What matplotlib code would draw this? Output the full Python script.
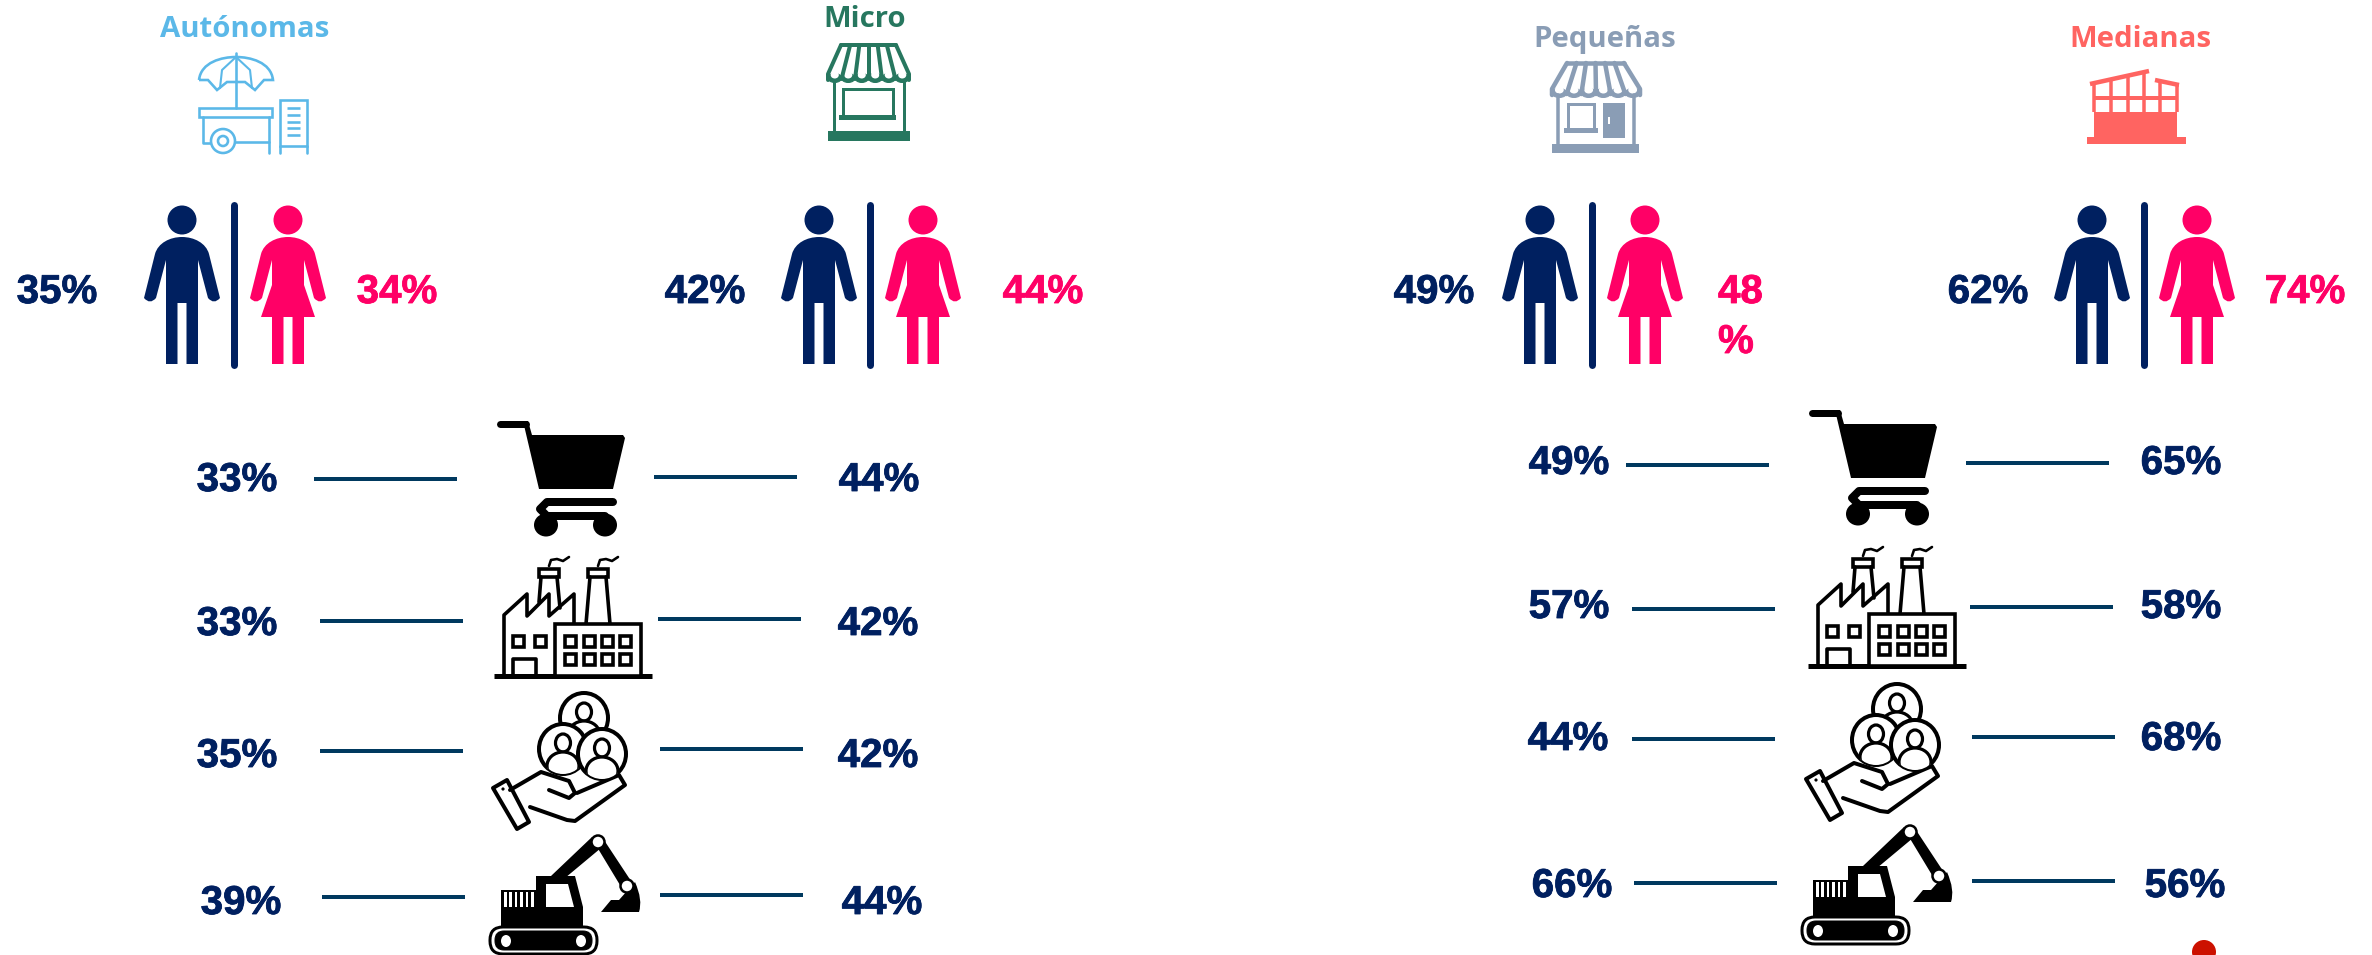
#Empresas por tamano y sector - infografia
import matplotlib
matplotlib.use("Agg")
import matplotlib.pyplot as plt
import matplotlib.patheffects as pe
from matplotlib.path import Path
from matplotlib.patches import PathPatch, Ellipse, Rectangle, Polygon, Circle, FancyBboxPatch

# data
groups = ["Autónomas", "Micro", "Pequeñas", "Medianas"]
men = [35, 42, 49, 62]
women = [34, 44, 48, 74]
block1_left = [33, 33, 35, 39]
block1_right = [44, 42, 42, 44]
block2_left = [49, 57, 44, 66]
block2_right = [65, 58, 68, 56]

# layout (pixels of the 2372x955 picture)
title_x = [245, 865, 1605, 2140]
title_y = [37, 27, 47, 47]
title_col = ["#5BB8E8", "#27775F", "#8A9DB5", "#FF6461"]
man_x = [182, 819, 1540, 2092]
div_x = [234, 870, 1592, 2144]
woman_x = [288, 923, 1645, 2197]
men_lab_x = [57, 705, 1434, 1988]
women_lab_x = [397, 1043, 1740, 2305]

NAVY = "#002060"
PINK = "#FF0066"
LINE = "#00395F"
BLACK = "#000000"
NUM_FONT = ["Liberation Sans", "DejaVu Sans"]
TITLE_FONT = ["Open Sans", "DejaVu Sans"]
NUM_SIZE = 29

fig = plt.figure(figsize=(23.72, 9.55), dpi=100)
ax = fig.add_axes([0, 0, 1, 1])
ax.set_xlim(0, 2372)
ax.set_ylim(955, 0)
ax.axis("off")


def px(w):
    return w * 0.72


def num(x, y, s, col=NAVY, ha="center"):
    t = ax.text(x, y, s, color=col, fontsize=NUM_SIZE, fontweight="bold",
                family=NUM_FONT, ha=ha, va="baseline")
    t.set_path_effects([pe.withStroke(linewidth=0.6, foreground=col)])


def seg(pts, col=BLACK, w=3, cap="round"):
    xs = [p[0] for p in pts]
    ys = [p[1] for p in pts]
    ax.plot(xs, ys, color=col, lw=px(w), solid_capstyle=cap, solid_joinstyle="round")


def poly(pts, col=BLACK, z=2):
    ax.add_patch(Polygon(pts, closed=True, fc=col, ec="none", zorder=z))


def box(x, y, w, h, col=BLACK, z=2):
    ax.add_patch(Rectangle((x, y), w, h, fc=col, ec="none", zorder=z))


#------------------------------------------------------------------------------
def person(cx, col, skirt=False):
    ax.add_patch(Ellipse((cx, 220), 29, 29, fc=col, ec="none"))
    C3, C4, L = Path.CURVE3, Path.CURVE4, Path.LINETO
    v = [(-27, 254), (-24, 243), (-12, 237), (0, 237), (12, 237), (24, 243), (27, 254),
         (38, 298), (32, 305), (26, 298), (16, 260)]
    c = [Path.MOVETO, C4, C4, C4, C4, C4, C4, L, C3, C3, L]
    if skirt:
        low = [(16, 285), (27, 317), (16, 317), (16, 364), (4.5, 364), (4.5, 317),
               (-4.5, 317), (-4.5, 364), (-16, 364), (-16, 317), (-27, 317), (-16, 285)]
    else:
        low = [(16, 364), (4.5, 364), (4.5, 303), (-4.5, 303), (-4.5, 364), (-16, 364)]
    v += low
    c += [L] * len(low)
    v += [(-16, 260), (-26, 298), (-32, 305), (-38, 298), (-27, 254)]
    c += [L, L, C3, C3, Path.CLOSEPOLY]
    v = [(cx + a, b) for a, b in v]
    ax.add_patch(PathPatch(Path(v, c), fc=col, ec="none"))


#------------------------------------------------------------------------------
def awning(x0, x1, top_l, top_r, y0, y1, col, w=4):
    # top bar, side edges, ribs and scallops of a shop awning
    n = 6
    seg([(top_l, y0), (top_r, y0)], col, w)
    seg([(top_l, y0), (x0, y1 - 6), (x0, y1)], col, w)
    seg([(top_r, y0), (x1, y1 - 6), (x1, y1)], col, w)
    for i in range(1, n):
        f = i / n
        seg([(top_l + (top_r - top_l) * f, y0), (x0 + (x1 - x0) * f, y1 - 1)], col, w)
    for i in range(n):
        sw = (x1 - x0) / n
        ax.add_patch(Ellipse((x0 + sw * (i + 0.5), y1 - 2), sw, 9, fc=col, ec=col, lw=px(1), zorder=1.5))
        ax.add_patch(Ellipse((x0 + sw * (i + 0.5), y1 - 5), sw * 0.6, 7, fc="white", ec="none", zorder=1.6))


def store_micro(col):
    awning(828, 909, 841, 896, 45, 80, col)
    seg([(834, 80), (834, 133)], col, 3)
    seg([(904, 80), (904, 133)], col, 3)
    ax.add_patch(Rectangle((843, 89), 50, 27, fc="white", ec=col, lw=px(3)))
    box(839, 115, 57, 5, col)
    box(828, 131, 82, 10, col)


def store_small(col):
    awning(1552, 1640, 1567, 1624, 63, 95, col, 4.5)
    seg([(1558, 95), (1558, 146)], col, 3.5)
    seg([(1634, 95), (1634, 146)], col, 3.5)
    ax.add_patch(Rectangle((1568, 104), 26, 25, fc="white", ec=col, lw=px(3)))
    box(1564, 128, 34, 5, col)
    box(1603, 103, 22, 35, col)
    box(1608, 117, 2, 7, "white", 3)
    box(1552, 144, 87, 9, col)


def cart_stall(col):
    w = 2.6
    # umbrella
    ax.add_patch(PathPatch(Path(
        [(199, 80), (201, 62), (222, 57), (236, 57), (250, 57), (271, 62), (273, 80),
         (264, 80), (255, 90), (245, 82), (236, 82), (227, 82), (217, 90), (208, 80), (199, 80)],
        [Path.MOVETO, Path.CURVE4, Path.CURVE4, Path.CURVE4, Path.CURVE4, Path.CURVE4, Path.CURVE4,
         Path.LINETO, Path.LINETO, Path.LINETO, Path.LINETO, Path.LINETO, Path.LINETO, Path.LINETO, Path.LINETO]),
        fc="none", ec=col, lw=px(w)))
    seg([(236, 53), (236, 108)], col, w)
    seg([(236, 57), (222, 70), (220, 88)], col, w * 0.8)
    seg([(236, 57), (250, 70), (252, 88)], col, w * 0.8)
    # cart
    ax.add_patch(Rectangle((199, 108), 73, 9, fc="none", ec=col, lw=px(w)))
    seg([(203, 117), (203, 143), (210, 143)], col, w)
    seg([(269, 117), (269, 153)], col, w)
    seg([(235, 142), (269, 142)], col, w)
    ax.add_patch(Circle((223, 141), 12, fc="white", ec=col, lw=px(w)))
    ax.add_patch(Circle((223, 141), 5, fc="white", ec=col, lw=px(w)))
    # panel
    ax.add_patch(Rectangle((280, 100), 27, 46, fc="none", ec=col, lw=px(w)))
    seg([(280, 146), (280, 153)], col, w)
    seg([(307, 146), (307, 153)], col, w)
    for y in [108, 115, 122, 128, 135]:
        seg([(287, y), (300, y)], col, w, "butt")


def workshop(col):
    box(2087, 137, 99, 7, col)
    box(2094, 112, 83, 25, col)
    post_x = [2094, 2111, 2128, 2144, 2160, 2177]
    post_top = [84, 80, 76, 72, 82, 85]
    for x, t in zip(post_x, post_top):
        seg([(x, t), (x, 112)], col, 3.5, "butt")
    box(2094, 96, 83, 4, col)
    seg([(2090, 84), (2149, 71)], col, 4.5, "butt")
    seg([(2155, 80), (2179, 85)], col, 4.5, "butt")


#------------------------------------------------------------------------------
def cart(x, y):
    seg([(x + 3, y + 6), (x + 29, y + 6)], BLACK, 7)
    poly([(x + 26, y + 3), (x + 31, y + 3), (x + 35, y + 17), (x + 126, y + 17), (x + 128, y + 20),
          (x + 116, y + 71), (x + 42, y + 71)])
    seg([(x + 116, y + 84), (x + 50, y + 84), (x + 43, y + 91), (x + 50, y + 98), (x + 108, y + 98)], BLACK, 8)
    ax.add_patch(Ellipse((x + 49, y + 107), 24, 23, fc=BLACK, ec="none"))
    ax.add_patch(Ellipse((x + 108, y + 107), 24, 23, fc=BLACK, ec="none"))


def factory(x, y):
    w = 3.6
    seg([(x, y + 120), (x + 158, y + 120)], BLACK, 5, "butt")
    seg([(x + 10, y + 120), (x + 10, y + 59), (x + 33, y + 38), (x + 33, y + 60), (x + 55, y + 38),
         (x + 55, y + 60), (x + 80, y + 38), (x + 80, y + 68)], BLACK, w)
    ax.add_patch(Rectangle((x + 61, y + 68), 86, 52, fc="white", ec=BLACK, lw=px(w), zorder=3))
    # chimneys
    seg([(x + 47, y + 21), (x + 45, y + 46)], BLACK, w)
    seg([(x + 63, y + 21), (x + 66, y + 52)], BLACK, w)
    seg([(x + 96, y + 21), (x + 92, y + 68)], BLACK, w)
    seg([(x + 112, y + 21), (x + 116, y + 68)], BLACK, w)
    for cxx in [45, 94]:
        ax.add_patch(Rectangle((x + cxx, y + 13), 20, 8, fc="white", ec=BLACK, lw=px(w)))
        seg([(x + cxx + 10, y + 10), (x + cxx + 12, y + 4), (x + cxx + 18, y + 3), (x + cxx + 24, y + 5), (x + cxx + 30, y + 1)], BLACK, 2.6)
    # windows
    for wx in [19, 41, 71, 90, 108, 126]:
        ax.add_patch(Rectangle((x + wx, y + 80), 11, 11, fc="white", ec=BLACK, lw=px(w), zorder=4))
    for wx in [71, 90, 108, 126]:
        ax.add_patch(Rectangle((x + wx, y + 98), 11, 11, fc="white", ec=BLACK, lw=px(w), zorder=4))
    seg([(x + 19, y + 120), (x + 19, y + 103), (x + 42, y + 103), (x + 42, y + 120)], BLACK, w)


def hand(x, y):
    w = 4
    for cx, cy in [(93, 25), (72, 56), (111, 61)]:
        cc = Ellipse((x + cx, y + cy), 48, 50, fc="white", ec=BLACK, lw=px(w), zorder=3)
        ax.add_patch(cc)
        head = Ellipse((x + cx, y + cy - 6), 15, 18, fc="white", ec=BLACK, lw=px(w * 0.8), zorder=3)
        ax.add_patch(head)
        body = Ellipse((x + cx, y + cy + 17), 32, 28, fc="white", ec=BLACK, lw=px(w * 0.8), zorder=3)
        ax.add_patch(body)
        body.set_clip_path(cc)
    seg([(x + 19, y + 97), (x + 50, y + 79), (x + 78, y + 88), (x + 84, y + 100), (x + 78, y + 105), (x + 58, y + 97)], BLACK, w)
    seg([(x + 86, y + 100), (x + 128, y + 82), (x + 134, y + 92), (x + 84, y + 128), (x + 76, y + 127), (x + 39, y + 114)], BLACK, w)
    ax.add_patch(Polygon([(x + 2, y + 95), (x + 16, y + 87), (x + 38, y + 129), (x + 26, y + 136)], closed=True,
                         fc="white", ec=BLACK, lw=px(w), joinstyle="round"))
    ax.add_patch(Circle((x + 12, y + 96), 1.6, fc=BLACK, ec="none"))


def excavator(x, y):
    # body and cab
    poly([(x + 12, y + 56), (x + 47, y + 56), (x + 47, y + 42), (x + 86, y + 42), (x + 94, y + 73),
          (x + 94, y + 95), (x + 12, y + 95)])
    for i in range(6):
        box(x + 15 + i * 5.4, y + 58, 2.6, 15, "white", 3)
    poly([(x + 57, y + 50), (x + 79, y + 50), (x + 85, y + 73), (x + 57, y + 73)], "white", 3)
    # boom, arm and bucket
    poly([(x + 62, y + 42), (x + 103, y + 3), (x + 112, y + 14), (x + 76, y + 44)])
    poly([(x + 105, y + 8), (x + 113, y + 3), (x + 144, y + 50), (x + 134, y + 56)])
    ax.add_patch(PathPatch(Path(
        [(x + 112, y + 78), (x + 122, y + 66), (x + 130, y + 66), (x + 146, y + 48), (x + 154, y + 66),
         (x + 150, y + 78), (x + 132, y + 78), (x + 112, y + 78)],
        [Path.MOVETO, Path.LINETO, Path.LINETO, Path.LINETO, Path.CURVE3, Path.CURVE3, Path.LINETO, Path.CLOSEPOLY]),
        fc=BLACK, ec="none"))
    ax.add_patch(Ellipse((x + 109, y + 8), 13, 13, fc="white", ec=BLACK, lw=px(2.5), zorder=4))
    ax.add_patch(Ellipse((x + 138, y + 52), 13, 13, fc="white", ec=BLACK, lw=px(2.5), zorder=4))
    # track
    ax.add_patch(FancyBboxPatch((x + 1, y + 93), 107, 27, boxstyle="round,pad=0,rounding_size=13",
                                fc="white", ec=BLACK, lw=px(3), zorder=3))
    ax.add_patch(FancyBboxPatch((x + 6, y + 97), 97, 19, boxstyle="round,pad=0,rounding_size=9",
                                fc=BLACK, ec=BLACK, lw=px(1), zorder=4))
    ax.add_patch(Ellipse((x + 17, y + 107), 10, 12, fc="white", ec="none", zorder=5))
    ax.add_patch(Ellipse((x + 92, y + 107), 10, 12, fc="white", ec="none", zorder=5))


#------------------------------------------------------------------------------
# titles, icons and gender figures
for i, name in enumerate(groups):
    ax.text(title_x[i], title_y[i], name, color=title_col[i], fontsize=21.2, fontweight="bold",
            family=TITLE_FONT, ha="center", va="baseline")
    person(man_x[i], NAVY)
    person(woman_x[i], PINK, skirt=True)
    ax.plot([div_x[i], div_x[i]], [205, 365], color=NAVY, lw=px(7), solid_capstyle="round")
    num(men_lab_x[i], 303, f"{men[i]}%", NAVY)
    if name != "Pequeñas":
        num(women_lab_x[i], 303, f"{women[i]}%", PINK)

# the 48% label wraps in the original
num(1718, 303, str(women[2]), PINK, ha="left")
num(1718, 353, "%", PINK, ha="left")

cart_stall(title_col[0])
store_micro(title_col[1])
store_small(title_col[2])
workshop(title_col[3])

# sector rows: first block
b1_lab_l = [237, 237, 237, 241]
b1_lab_r = [879, 878, 878, 882]
b1_base = [491, 635, 767, 914]
b1_line_l = [(314, 457, 479), (320, 463, 621), (320, 463, 751), (322, 465, 897)]
b1_line_r = [(654, 797, 477), (658, 801, 619), (660, 803, 749), (660, 803, 895)]
# second block
b2_lab_l = [1569, 1569, 1568, 1572]
b2_lab_r = [2181, 2181, 2181, 2185]
b2_base = [474, 618, 750, 897]
b2_line_l = [(1626, 1769, 465), (1632, 1775, 609), (1632, 1775, 739), (1634, 1777, 883)]
b2_line_r = [(1966, 2109, 463), (1970, 2113, 607), (1972, 2115, 737), (1972, 2115, 881)]

for vl, vr, xl, xr, yb, ll, lr in list(zip(block1_left, block1_right, b1_lab_l, b1_lab_r, b1_base, b1_line_l, b1_line_r)) + \
        list(zip(block2_left, block2_right, b2_lab_l, b2_lab_r, b2_base, b2_line_l, b2_line_r)):
    num(xl, yb, f"{vl}%")
    num(xr, yb, f"{vr}%")
    ax.plot(ll[:2], [ll[2], ll[2]], color=LINE, lw=px(4), solid_capstyle="butt")
    ax.plot(lr[:2], [lr[2], lr[2]], color=LINE, lw=px(4), solid_capstyle="butt")

cart(497, 418)
factory(494, 556)
hand(491, 693)
excavator(489, 834)
cart(1809, 407)
factory(1808, 546)
hand(1804, 684)
excavator(1801, 824)

# red dot cut by the lower edge
ax.add_patch(Circle((2204, 952), 12, fc="#CC1100", ec="none"))

fig.savefig("out.png", dpi=100, facecolor="white")
